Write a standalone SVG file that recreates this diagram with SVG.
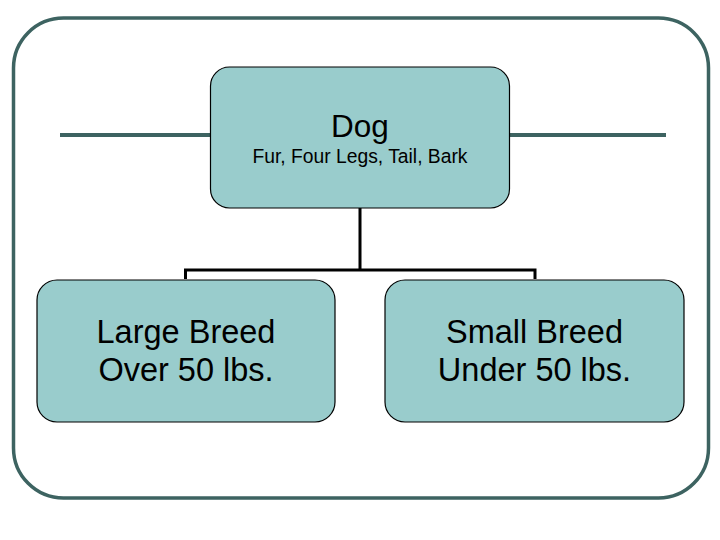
<svg xmlns="http://www.w3.org/2000/svg" width="720" height="540" viewBox="0 0 720 540">
<style>
.frame{fill:none;stroke:#3d6361;stroke-width:3.5}
.rule{stroke:#3d6361;stroke-width:4;fill:none}
.box{fill:#99cccc;stroke:#000;stroke-width:1.2}
.conn{fill:none;stroke:#000;stroke-width:3;stroke-linejoin:miter}
text{font-family:"Liberation Sans",Arial,sans-serif;fill:#000;text-anchor:middle}
.head{font-size:31.5px}
.big{font-size:32.5px}
.small{font-size:19.3px}
</style>
<rect width="720" height="540" fill="#fff"/>
<rect class="frame" x="13.5" y="18" width="695" height="480" rx="50" ry="50"/>
<line class="rule" x1="60" y1="135" x2="211" y2="135"/>
<line class="rule" x1="509" y1="135" x2="666" y2="135"/>
<g id="connectors">
<path class="conn" d="M360 208 V270 M185.5 279 V270 H535 V279"/>
</g>
<g id="dog">
<rect class="box" x="210.5" y="67" width="299" height="141" rx="19" ry="19"/>
<text class="head" x="360" y="137">Dog</text>
<text class="small" x="360" y="163">Fur, Four Legs, Tail, Bark</text>
</g>
<g id="large">
<rect class="box" x="37" y="280" width="298" height="142" rx="20" ry="20"/>
<text class="big" x="186" y="343">Large Breed</text>
<text class="big" x="186" y="380.5">Over 50 lbs.</text>
</g>
<g id="small">
<rect class="box" x="385" y="280" width="299" height="142" rx="20" ry="20"/>
<text class="big" x="534.5" y="343">Small Breed</text>
<text class="big" x="534.5" y="380.5">Under 50 lbs.</text>
</g>
</svg>
